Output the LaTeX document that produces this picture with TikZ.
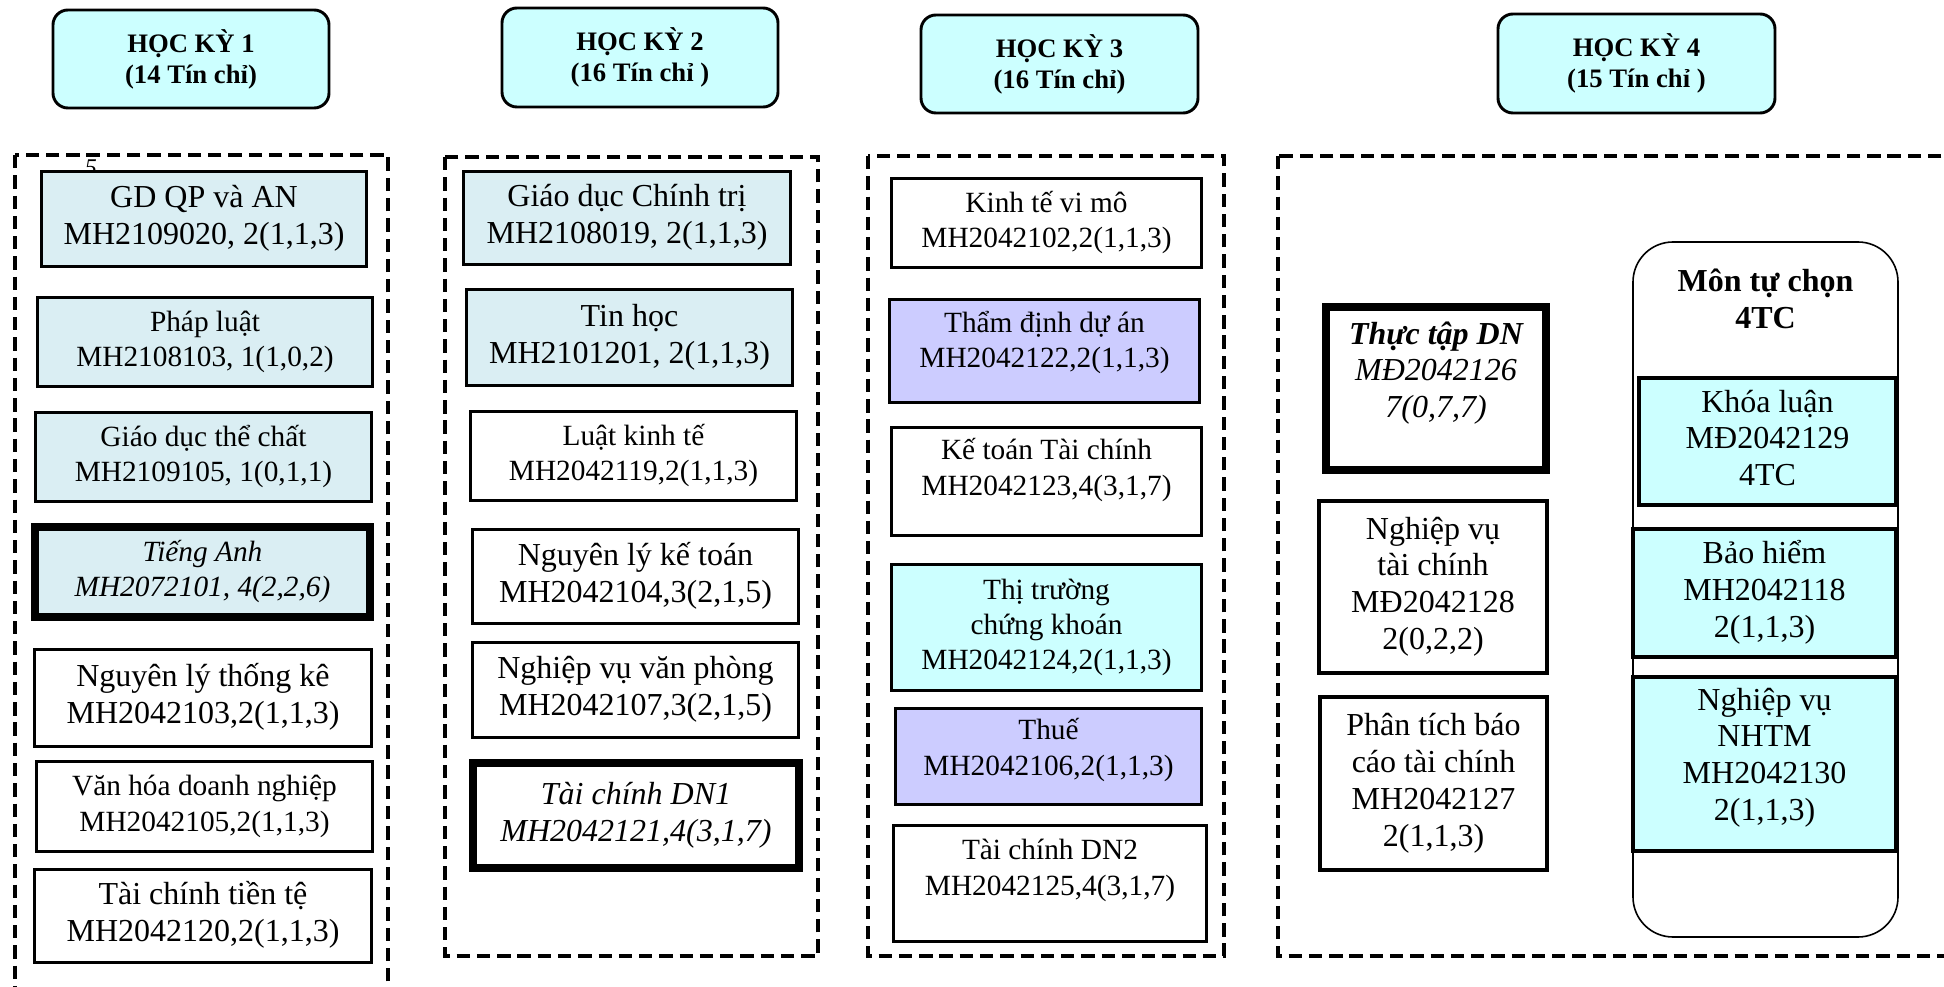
\documentclass[tikz,border=0pt]{standalone}
\usepackage{fontspec}
\setmainfont{Liberation Serif}
\definecolor{hdr}{HTML}{CCFFFF}
\definecolor{pale}{HTML}{DAEEF3}
\definecolor{cyanf}{HTML}{CCFFFF}
\definecolor{lav}{HTML}{CCCCFF}
\tikzset{
  x=0.375pt, y=-0.375pt,
  sem/.style={draw, line width=1.1pt, fill=hdr, rounded corners=5.6pt, align=center,
    font=\fontsize{10}{11.6}\selectfont\bfseries, inner sep=0pt},
  group/.style={draw, line width=1.2pt, dash pattern=on 5pt off 2.6pt},
  crs/.style={draw, line width=1.1pt, inner sep=0pt, outer sep=0pt, fill=white},
  heavy/.style={line width=3pt},
  mid/.style={line width=1.4pt},
  tA/.style={align=center, font=\fontsize{12}{13.8}\selectfont, inner sep=0pt},
  tB/.style={align=center, font=\fontsize{11}{13.2}\selectfont, inner sep=0pt},
  tAi/.style={tA, font=\fontsize{12}{13.8}\selectfont\itshape},
  tBi/.style={tB, font=\fontsize{11}{13.2}\selectfont\itshape},
}
\newcommand\crsbox[6]{%
  \node[crs,#6,minimum width={(#4-#2)*0.375pt-\pgflinewidth},
        minimum height={(#5-#3)*0.375pt-\pgflinewidth}] (#1) at ({(#2+#4)/2},{(#3+#5)/2}) {};}
\newcommand\crstext[4]{%
  \node[#2] (#1-t) at ([yshift={#3*0.375pt}]#1.center) {\strut #4\strut};}
\begin{document}
\begin{tikzpicture}
\useasboundingbox (0,0) rectangle (1944,987);

% semester headers
\node[sem, minimum width={276*0.375pt}, minimum height={98*0.375pt}] (hk1) at (191,59) {HỌC KỲ 1\\(14 Tín chỉ)};
\node[sem, minimum width={276*0.375pt}, minimum height={99*0.375pt}] (hk2) at (640,57.5) {HỌC KỲ 2\\(16 Tín chỉ )};
\node[sem, minimum width={277*0.375pt}, minimum height={98*0.375pt}] (hk3) at (1059.5,64) {HỌC KỲ 3\\(16 Tín chỉ)};
\node[sem, minimum width={277*0.375pt}, minimum height={99*0.375pt}] (hk4) at (1636.5,63.5) {HỌC KỲ 4\\(15 Tín chỉ )};

% dashed groups
\draw[group] (15,155) rectangle (388,1010);
\draw[group] (445,157) rectangle (818,956);
\draw[group] (868,156) rectangle (1224,956);
\draw[group] (1278,156) rectangle (1975,956);

% stray mark at the top of group 1
\node[inner sep=0pt, font=\fontsize{9}{10}\selectfont\itshape] (mark) at (91,168) {5};

% semester 1
\crsbox{b1}{40}{170}{368}{268}{fill=pale}
\crstext{b1}{tA}{0}{GD QP và AN\\MH2109020, 2(1,1,3)}
\crsbox{b2}{36}{296}{374}{388}{fill=pale}
\crstext{b2}{tB}{0}{Pháp luật\\MH2108103, 1(1,0,2)}
\crsbox{b3}{34}{411}{373}{503}{fill=pale}
\crstext{b3}{tB}{0}{Giáo dục thể chất\\MH2109105, 1(0,1,1)}
\crsbox{b4}{31}{523}{374}{621}{fill=pale, heavy}
\crstext{b4}{tBi}{0}{Tiếng Anh\\MH2072101, 4(2,2,6)}
\crsbox{b5}{33}{648}{373}{748}{}
\crstext{b5}{tA}{0}{Nguyên lý thống kê\\MH2042103,2(1,1,3)}
\crsbox{b6}{35}{760}{374}{853}{}
\crstext{b6}{tB}{0}{Văn hóa doanh nghiệp\\MH2042105,2(1,1,3)}
\crsbox{b7}{33}{868}{373}{964}{}
\crstext{b7}{tA}{0}{Tài chính tiền tệ\\MH2042120,2(1,1,3)}

% semester 2
\crsbox{c1}{462}{170}{792}{266}{fill=pale}
\crstext{c1}{tA}{0}{Giáo dục Chính trị\\MH2108019, 2(1,1,3)}
\crsbox{c2}{465}{288}{794}{387}{fill=pale}
\crstext{c2}{tA}{0}{Tin học\\MH2101201, 2(1,1,3)}
\crsbox{c3}{469}{410}{798}{502}{}
\crstext{c3}{tB}{0}{Luật kinh tế\\MH2042119,2(1,1,3)}
\crsbox{c4}{471}{528}{800}{625}{}
\crstext{c4}{tA}{0}{Nguyên lý kế toán\\MH2042104,3(2,1,5)}
\crsbox{c5}{471}{641}{800}{739}{}
\crstext{c5}{tA}{0}{Nghiệp vụ văn phòng\\MH2042107,3(2,1,5)}
\crsbox{c6}{469}{759}{803}{872}{heavy}
\crstext{c6}{tAi}{0}{Tài chính DN1\\MH2042121,4(3,1,7)}

% semester 3
\crsbox{d1}{890}{177}{1203}{269}{}
\crstext{d1}{tB}{0}{Kinh tế vi mô\\MH2042102,2(1,1,3)}
\crsbox{d2}{888}{298}{1201}{404}{fill=lav}
\crstext{d2}{tB}{8}{Thẩm định dự án\\MH2042122,2(1,1,3)}
\crsbox{d3}{890}{426}{1203}{537}{}
\crstext{d3}{tB}{11}{Kế toán Tài chính\\MH2042123,4(3,1,7)}
\crsbox{d4}{890}{563}{1203}{692}{fill=cyanf}
\crstext{d4}{tB}{0}{Thị trường\\chứng khoán\\MH2042124,2(1,1,3)}
\crsbox{d5}{894}{707}{1203}{806}{fill=lav}
\crstext{d5}{tB}{6}{Thuế\\MH2042106,2(1,1,3)}
\crsbox{d6}{892}{824}{1208}{943}{}
\crstext{d6}{tB}{13}{Tài chính DN2\\MH2042125,4(3,1,7)}

% semester 4
\node[draw, line width=0.6pt, rounded corners=15pt, fill=white,
      minimum width={265*0.375pt}, minimum height={695*0.375pt}] (mtc) at (1765.5,589.5) {};
\node[align=center, font=\fontsize{12}{13.8}\selectfont\bfseries, inner sep=0pt] (mtc-t)
      at (1765.5,303) {\strut Môn tự chọn\\4TC\strut};
\crsbox{e1}{1322}{303}{1550}{474}{heavy}
\crstext{e1}{tAi}{15}{\textbf{Thực tập DN}\\MĐ2042126\\7(0,7,7)}
\crsbox{e2}{1317}{499}{1549}{675}{mid}
\crstext{e2}{tA}{0}{Nghiệp vụ\\tài chính\\MĐ2042128\\2(0,2,2)}
\crsbox{e3}{1318}{695}{1549}{872}{mid}
\crstext{e3}{tA}{0}{Phân tích báo\\cáo tài chính\\MH2042127\\2(1,1,3)}
\crsbox{f1}{1637}{376}{1898}{507}{fill=cyanf, mid}
\crstext{f1}{tA}{0}{Khóa luận\\MĐ2042129\\4TC}
\crsbox{f2}{1631}{527}{1898}{659}{fill=cyanf, mid}
\crstext{f2}{tA}{0}{Bảo hiểm\\MH2042118\\2(1,1,3)}
\crsbox{f3}{1631}{675}{1898}{853}{fill=cyanf, mid}
\crstext{f3}{tA}{6}{Nghiệp vụ\\NHTM\\MH2042130\\2(1,1,3)}
\end{tikzpicture}
\end{document}
